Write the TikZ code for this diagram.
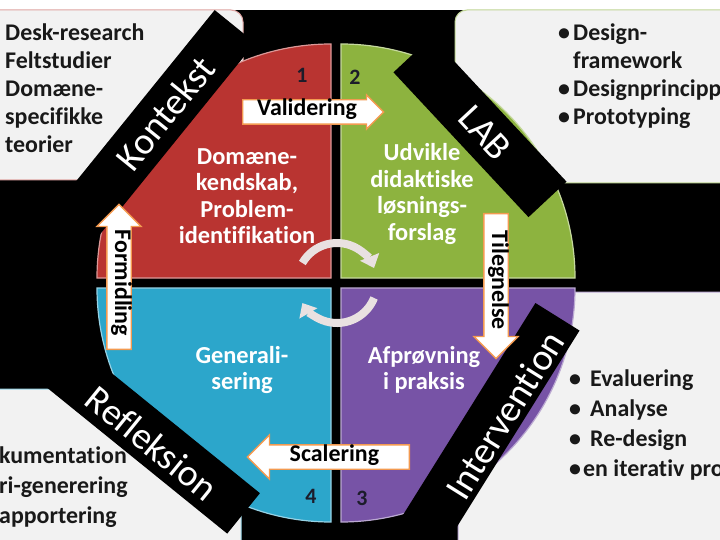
\documentclass[tikz,border=0pt]{standalone}
\usepackage{fontspec}
\setmainfont{Carlito}[Ligatures=NoCommon]
\usetikzlibrary{shapes.arrows,arrows.meta,positioning}
\definecolor{boxgray}{HTML}{F2F2F2}
\definecolor{quadred}{HTML}{B93431}
\definecolor{quadgreen}{HTML}{8DB33F}
\definecolor{quadblue}{HTML}{2CA6CB}
\definecolor{quadpurple}{HTML}{7753A6}
\definecolor{flowline}{HTML}{F39A50}
\definecolor{loopgray}{HTML}{E9E1E1}
\definecolor{numdark}{HTML}{1C1C2A}
\tikzset{
  greybox/.style={fill=boxgray, line width=1bp, rounded corners=12bp},
  band/.style={fill=black, minimum height=52bp, inner sep=0pt},
  bandlabel/.style={text=white, inner sep=0pt, font=\fontsize{38}{38}\selectfont},
  quadtext/.style={text=white, align=center, font=\bfseries\fontsize{24.5}{26.5}\selectfont},
  listtext/.style={anchor=base west, inner sep=0pt, text=black!90, font=\bfseries\fontsize{24}{28}\selectfont},
  flow/.style={single arrow, draw=flowline, fill=white, line width=1.3bp, inner xsep=3bp, inner ysep=2.5bp,
    text height=13bp, text depth=5bp, single arrow head extend=10bp, font=\bfseries\fontsize{24}{24}\selectfont},
  numlabel/.style={text=numdark, font=\bfseries\fontsize{22}{22}\selectfont},
  loopline/.style={draw=loopgray, line width=8bp, -{Triangle[width=20bp,length=12bp]}}
}
\begin{document}
\begin{tikzpicture}[x=1bp, y=-1bp]
  \useasboundingbox (0,0) rectangle (720,540);
  \clip (0,0) rectangle (720,540);
  \fill[black] (0,10) rectangle (720,540);

  % corner boxes
  \filldraw[greybox, draw=quadred!45] (-20,10) rectangle (243,180);
  \filldraw[greybox, draw=quadgreen!55] (455,10) rectangle (740,183);
  \filldraw[greybox, draw=quadblue!50] (-20,389) rectangle (241,560);
  \filldraw[greybox, draw=quadpurple!50] (458,292) rectangle (740,560);

  % quadrants
  \foreach \col/\cx/\cy/\ang in {quadred/331/278/180, quadgreen/341/278/270,
                                 quadpurple/341/288/0, quadblue/331/288/90}
    \filldraw[fill=\col, draw=\col!50!white, line width=1.2bp]
      (\cx,\cy) -- ++(\ang:234) arc[start angle=\ang, delta angle=90, radius=234] -- cycle;

  % bands
  \node[band, rotate=51, minimum width=300bp] (kontekstband) at (140.5,143) {};
  \node[band, rotate=-47, minimum width=198bp] (labband) at (480,127) {};
  \node[band, rotate=-39, minimum width=300bp] (refleksionband) at (127,419) {};
  \node[band, rotate=58, minimum width=300bp] (interventionband) at (478,444) {};

  \node[bandlabel, rotate=51] (kontekst) at (165,113) {Kontekst};
  \node[bandlabel, rotate=-47] (lab) at (485,133) {LAB};
  \node[bandlabel, rotate=-39] (refleksion) at (152,443) {Refleksion};
  \node[bandlabel, rotate=58] (intervention) at (505,415) {Intervention};

  % quadrant texts
  \node[quadtext] (domaene) at (247,196) {Domæne-\\kendskab,\\Problem-\\identifikation};
  \node[quadtext] (udvikle) at (422,194) {Udvikle\\didaktiske\\løsnings-\\forslag};
  \node[quadtext] (generali) at (242,370) {Generali-\\sering};
  \node[quadtext] (afproevning) at (424,370) {Afprøvning\\i praksis};

  \node[numlabel] (one) at (302,75) {1};
  \node[numlabel] (two) at (355,77) {2};
  \node[numlabel] (three) at (362,498) {3};
  \node[numlabel] (four) at (311,496) {4};

  % flow arrows
  \node[flow, anchor=tail, minimum height=141bp, single arrow head extend=5bp] (validering) at (242,112) {Validering};
  \node[flow, anchor=tail, rotate=-90, minimum height=145bp] (tilegnelse) at (496,213) {Tilegnelse};
  \node[flow, anchor=tail, shape border rotate=180, minimum height=162bp] (scalering) at (410,457) {Scalering};
  \node[flow, anchor=tail, rotate=-90, shape border rotate=180, minimum height=145bp] (formidling) at (119,350) {Formidling};

  % cycle
  \coordinate (hub) at (337,283);
  \draw[loopline] ([shift={(-150:40)}]hub) arc[start angle=-150, end angle=-22, radius=40];
  \draw[loopline] ([shift={(22:40)}]hub) arc[start angle=22, end angle=150, radius=40];

  % lists
  \foreach \txt [count=\i] in {Desk-research,Feltstudier,Domæne-,specifikke,teorier}
    \node[listtext] (kontekst\i) at (5,13+28*\i) {\txt};

  \foreach \txt [count=\i] in {Design-,framework,Designprincipp,Prototyping}
    \node[listtext] (lab\i) at (573,13+28*\i) {\txt};
  \foreach \y in {41,97,125}
    \node[listtext] (labdot\y) at (558,\y) {•};

  \foreach \txt [count=\i] in {Evaluering,Analyse,Re-design}
    \node[listtext] (intervention\i) at (590,356+30*\i) {\txt};
  \node[listtext] (intervention4) at (583,476) {en iterativ pro};
  \foreach \y in {386,416,446,476}
    \node[listtext] (interventiondot\y) at (569,\y) {•};

  \foreach \txt [count=\i] in {kumentation,ri-generering,apportering}
    \node[listtext] (refleksion\i) at (-1,433+30*\i) {\txt};
\end{tikzpicture}
\end{document}
